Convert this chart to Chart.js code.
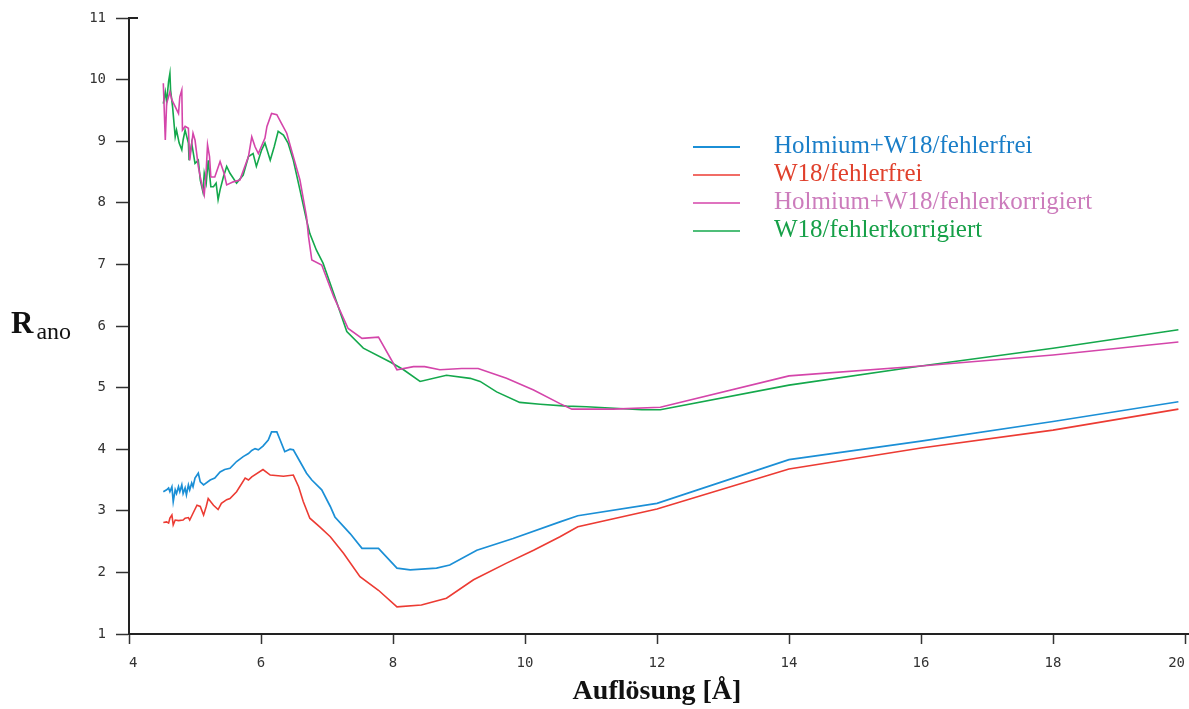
<!DOCTYPE html>
<html>
<head>
<meta charset="utf-8">
<script src="https://cdn.jsdelivr.net/npm/chart.js@4.4.1/dist/chart.umd.min.js"></script>
<style>
  body { margin: 0; background: #fff; }
  #wrap { position: relative; width: 1189px; height: 709px; }
  #ytitle { position: absolute; left: 11px; top: 305px; font-family: "Liberation Serif", serif; color: #111; white-space: nowrap; }
  #ytitle b { font-size: 31px; }
  #ytitle span { font-size: 24px; position: relative; top: 6px; margin-left: 3px; }
</style>
</head>
<body>
<div id="wrap">
  <canvas id="rano" width="1189" height="709"></canvas>
  <div id="ytitle"><b>R</b><span>ano</span></div>
</div>
<script>
// Auflösung [Å] vs. R_ano
const xHoFrei = [4.52, 4.57, 4.60, 4.62, 4.65, 4.67, 4.70, 4.72, 4.75, 4.77, 4.80, 4.82, 4.85, 4.87, 4.90, 4.92, 4.95, 4.97, 5.00, 5.05, 5.08, 5.13, 5.23, 5.30, 5.38, 5.45, 5.53, 5.63, 5.73, 5.81, 5.86, 5.91, 5.96, 6.03, 6.11, 6.16, 6.24, 6.29, 6.36, 6.44, 6.49, 6.59, 6.69, 6.77, 6.92, 7.05, 7.12, 7.35, 7.53, 7.78, 8.06, 8.26, 8.66, 8.86, 9.27, 9.82, 10.53, 10.8, 12, 14, 16, 18, 19.9];
const yHoFrei = [3.31, 3.34, 3.37, 3.31, 3.39, 3.15, 3.34, 3.28, 3.39, 3.31, 3.42, 3.28, 3.37, 3.26, 3.42, 3.34, 3.45, 3.39, 3.53, 3.61, 3.47, 3.42, 3.50, 3.53, 3.63, 3.67, 3.69, 3.80, 3.88, 3.93, 3.98, 4.01, 3.99, 4.05, 4.15, 4.28, 4.28, 4.15, 3.96, 4.00, 3.99, 3.80, 3.61, 3.50, 3.34, 3.07, 2.90, 2.63, 2.39, 2.39, 2.07, 2.04, 2.07, 2.12, 2.36, 2.55, 2.82, 2.92, 3.12, 3.83, 4.13, 4.45, 4.77];

const xW18Frei = [4.52, 4.57, 4.60, 4.62, 4.65, 4.67, 4.70, 4.75, 4.82, 4.85, 4.90, 4.92, 4.97, 5.03, 5.08, 5.13, 5.17, 5.20, 5.28, 5.35, 5.40, 5.48, 5.53, 5.63, 5.76, 5.81, 5.86, 6.03, 6.14, 6.34, 6.49, 6.57, 6.64, 6.74, 6.89, 7.05, 7.25, 7.5, 7.78, 8.06, 8.43, 8.81, 9.22, 9.72, 10.13, 10.53, 10.8, 12, 14, 16, 18, 19.9];
const yW18Frei = [2.81, 2.82, 2.80, 2.88, 2.93, 2.77, 2.85, 2.84, 2.85, 2.88, 2.89, 2.85, 2.96, 3.09, 3.07, 2.93, 3.07, 3.20, 3.09, 3.02, 3.12, 3.18, 3.20, 3.31, 3.53, 3.50, 3.55, 3.67, 3.58, 3.56, 3.58, 3.39, 3.15, 2.88, 2.74, 2.58, 2.31, 1.93, 1.71, 1.44, 1.47, 1.58, 1.88, 2.15, 2.36, 2.58, 2.74, 3.03, 3.68, 4.02, 4.31, 4.65];

const xHoKorr = [4.52, 4.55, 4.57, 4.62, 4.65, 4.70, 4.75, 4.77, 4.80, 4.81, 4.85, 4.90, 4.92, 4.97, 5.00, 5.05, 5.08, 5.12, 5.14, 5.17, 5.19, 5.22, 5.24, 5.30, 5.38, 5.44, 5.48, 5.58, 5.68, 5.81, 5.86, 5.91, 5.96, 6.06, 6.09, 6.16, 6.24, 6.31, 6.39, 6.49, 6.59, 6.69, 6.72, 6.77, 6.92, 7.10, 7.32, 7.53, 7.78, 8.06, 8.31, 8.48, 8.71, 9.04, 9.29, 9.72, 10.13, 10.53, 10.71, 11.34, 12.05, 14, 16, 18, 19.9];
const yHoKorr = [9.94, 9.02, 9.61, 9.80, 9.67, 9.56, 9.45, 9.72, 9.83, 9.18, 9.24, 9.21, 8.69, 9.13, 9.02, 8.59, 8.42, 8.21, 8.13, 8.53, 8.94, 8.75, 8.42, 8.42, 8.67, 8.48, 8.29, 8.34, 8.37, 8.75, 9.07, 8.91, 8.80, 9.05, 9.24, 9.45, 9.43, 9.29, 9.13, 8.75, 8.37, 7.77, 7.45, 7.07, 6.99, 6.48, 5.96, 5.80, 5.82, 5.29, 5.34, 5.34, 5.29, 5.31, 5.31, 5.15, 4.96, 4.74, 4.65, 4.65, 4.68, 5.19, 5.35, 5.53, 5.74];

const xW18Korr = [4.52, 4.55, 4.57, 4.60, 4.62, 4.63, 4.66, 4.70, 4.72, 4.76, 4.80, 4.82, 4.85, 4.90, 4.91, 4.95, 5.00, 5.05, 5.08, 5.12, 5.14, 5.17, 5.20, 5.24, 5.28, 5.32, 5.35, 5.38, 5.43, 5.48, 5.53, 5.63, 5.73, 5.81, 5.88, 5.93, 6.01, 6.06, 6.14, 6.20, 6.26, 6.34, 6.41, 6.49, 6.59, 6.69, 6.74, 6.84, 6.94, 7.10, 7.30, 7.55, 7.95, 8.16, 8.41, 8.81, 9.17, 9.32, 9.57, 9.92, 10.23, 10.63, 10.93, 11.77, 12.05, 14, 16, 18, 19.9];
const yW18Korr = [9.61, 9.80, 9.64, 9.97, 10.10, 9.83, 9.56, 9.07, 9.18, 8.97, 8.86, 9.02, 9.18, 8.97, 8.69, 8.97, 8.64, 8.69, 8.37, 8.18, 8.48, 8.32, 8.69, 8.26, 8.26, 8.32, 8.05, 8.21, 8.42, 8.59, 8.48, 8.32, 8.45, 8.75, 8.80, 8.59, 8.86, 8.97, 8.69, 8.91, 9.16, 9.10, 8.97, 8.69, 8.21, 7.72, 7.50, 7.23, 7.02, 6.53, 5.91, 5.64, 5.42, 5.29, 5.10, 5.20, 5.15, 5.10, 4.93, 4.76, 4.73, 4.70, 4.69, 4.64, 4.64, 5.04, 5.35, 5.64, 5.94];

const seriesLabels = ["Holmium+W18/fehlerfrei", "W18/fehlerfrei", "Holmium+W18/fehlerkorrigiert", "W18/fehlerkorrigiert"];

function pts(xs, ys) {
    return xs.map((x, i) => ({ x: x, y: ys[i] }));
}

const legendPlugin = {
    id: "innerLegend",
    afterDraw(chart) {
        const ctx = chart.ctx;
        const rows = [147, 175, 203, 231];
        ctx.save();
        chart.data.datasets.forEach((ds, i) => {
            const y = rows[i];
            ctx.strokeStyle = ds.borderColor;
            ctx.lineWidth = i === 0 ? 2.2 : 1.6;
            ctx.beginPath();
            ctx.moveTo(693, y);
            ctx.lineTo(740, y);
            ctx.stroke();
            ctx.fillStyle = ds.legendColor;
            ctx.font = "25px 'Liberation Serif', serif";
            ctx.textBaseline = "middle";
            ctx.textAlign = "left";
            ctx.fillText(ds.label, 774, y - 1);
        });
        // axis line runs on to the right edge, small cross tick at the top
        const a = chart.chartArea;
        ctx.strokeStyle = "#222";
        ctx.lineWidth = 2;
        ctx.beginPath();
        ctx.moveTo(a.right, a.bottom);
        ctx.lineTo(chart.width, a.bottom);
        ctx.moveTo(a.left, a.top);
        ctx.lineTo(a.left + 9, a.top);
        ctx.stroke();
        ctx.restore();
    }
};

const tickFont = { family: "'DejaVu Sans Mono', monospace", size: 14 };

new Chart(document.getElementById("rano"), {
    type: "line",
    data: {
        datasets: [
            {
                label: seriesLabels[0],
                data: pts(xHoFrei, yHoFrei),
                borderColor: "#1b8fd6",
                legendColor: "#1a7ec8",
                borderWidth: 1.7,
            },
            {
                label: seriesLabels[1],
                data: pts(xW18Frei, yW18Frei),
                borderColor: "#ec3b33",
                legendColor: "#e0402c",
                borderWidth: 1.6,
            },
            {
                label: seriesLabels[2],
                data: pts(xHoKorr, yHoKorr),
                borderColor: "#d445aa",
                legendColor: "#cc7cbc",
                borderWidth: 1.6,
            },
            {
                label: seriesLabels[3],
                data: pts(xW18Korr, yW18Korr),
                borderColor: "#14a84c",
                legendColor: "#16a048",
                borderWidth: 1.6,
            },
        ],
    },
    options: {
        responsive: false,
        animation: false,
        elements: { point: { radius: 0 }, line: { tension: 0 } },
        layout: { padding: { top: 18, right: 4, left: 0, bottom: 0 } },
        plugins: {
            legend: { display: false },
            tooltip: { enabled: false },
        },
        scales: {
            x: {
                type: "linear",
                min: 4,
                max: 20,
                ticks: { stepSize: 2, color: "#333", font: tickFont, padding: 11, align: "inner" },
                grid: { drawOnChartArea: false, tickLength: 10, color: "#333", tickWidth: 1.5 },
                border: { color: "#222", width: 2 },
                title: {
                    display: true,
                    text: "Auflösung [Å]",
                    color: "#111",
                    font: { family: "'Liberation Serif', serif", weight: "bold", size: 28 },
                    padding: 0,
                },
                afterFit(scale) {
                    scale.height = 75;
                    scale.paddingRight = 0;
                    scale.paddingLeft = 0;
                },
            },
            y: {
                min: 1,
                max: 11,
                ticks: { stepSize: 1, color: "#333", font: tickFont, padding: 10 },
                grid: { drawOnChartArea: false, tickLength: 13, color: "#333", tickWidth: 1.5 },
                border: { color: "#222", width: 2 },
                afterFit(scale) {
                    scale.width = 129;
                    scale.paddingTop = 0;
                    scale.paddingBottom = 0;
                },
            },
        },
    },
    plugins: [legendPlugin],
});
</script>
</body>
</html>
